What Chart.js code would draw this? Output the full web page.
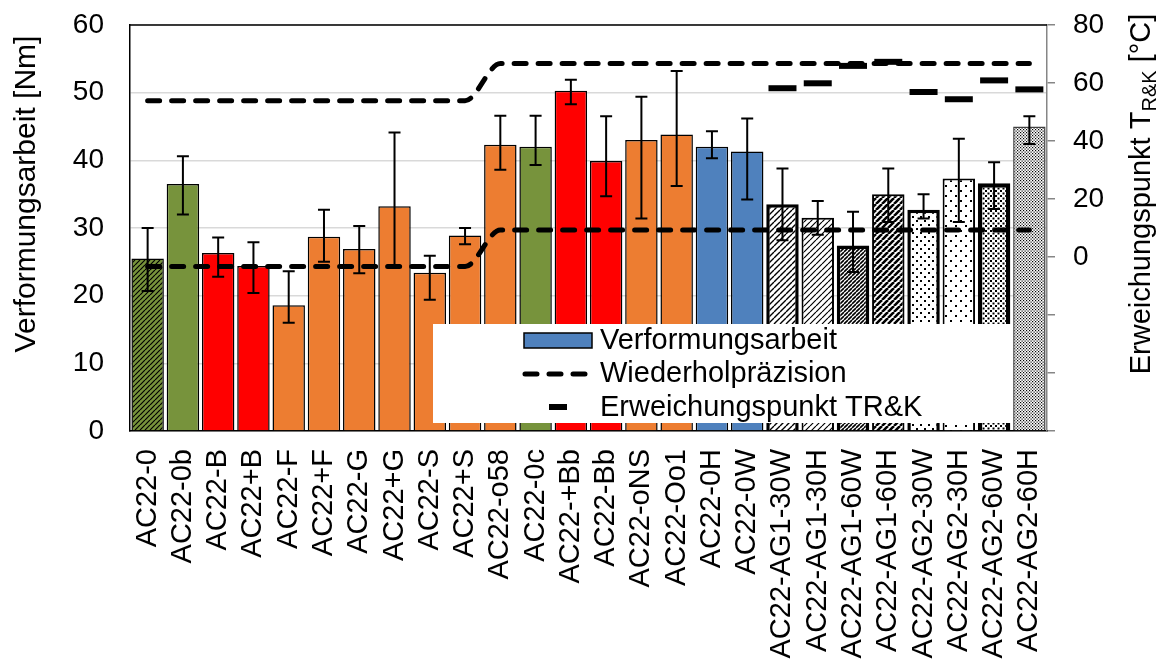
<!DOCTYPE html>
<html>
<head>
<meta charset="utf-8">
<title>Verformungsarbeit</title>
<script src="https://cdn.jsdelivr.net/npm/chart.js@4"></script>
<style>
  html, body { margin: 0; padding: 0; background: #fff; }
</style>
</head>
<body>
<canvas id="chart" width="1164" height="661"></canvas>
<script>
// Mischgut-Varianten (x-Achse)
const categories = [
  'AC22-0', 'AC22-0b', 'AC22-B', 'AC22+B', 'AC22-F', 'AC22+F', 'AC22-G', 'AC22+G',
  'AC22-S', 'AC22+S', 'AC22-o58', 'AC22-0c', 'AC22-+Bb', 'AC22-Bb', 'AC22-oNS', 'AC22-Oo1',
  'AC22-0H', 'AC22-0W', 'AC22-AG1-30W', 'AC22-AG1-30H', 'AC22-AG1-60W', 'AC22-AG1-60H',
  'AC22-AG2-30W', 'AC22-AG2-30H', 'AC22-AG2-60W', 'AC22-AG2-60H'
];

// Verformungsarbeit [Nm], Mittelwert
const arbeit = [
  25.5, 36.5, 26.3, 24.4, 18.6, 28.7, 26.9, 33.2, 23.4, 28.9, 42.3, 42.0, 50.3,
  39.9, 43.0, 43.8, 42.0, 41.3, 33.5, 31.5, 27.4, 35.0, 32.7, 37.3, 36.6, 45.0
];
// Streuung: obere und untere Grenze [Nm]
const arbeitMax = [
  30.0, 40.6, 28.6, 27.9, 23.6, 32.7, 30.3, 44.1, 25.9, 30.0, 46.6, 46.6, 51.9,
  46.5, 49.4, 53.2, 44.3, 46.2, 38.8, 34.0, 32.4, 38.8, 35.0, 43.2, 39.7, 46.5
];
const arbeitMin = [
  20.7, 32.0, 22.8, 20.4, 16.0, 25.0, 23.3, 24.3, 19.4, 27.6, 38.6, 39.3, 48.3,
  34.7, 31.4, 36.2, 40.3, 34.2, 28.2, 29.0, 23.5, 30.9, 31.4, 30.9, 32.8, 42.4
];

// Wiederholpräzision [Nm], obere und untere Grenze
const praezOben = [
  48.8, 48.8, 48.8, 48.8, 48.8, 48.8, 48.8, 48.8, 48.8, 48.8, 54.3, 54.3, 54.3,
  54.3, 54.3, 54.3, 54.3, 54.3, 54.3, 54.3, 54.3, 54.3, 54.3, 54.3, 54.3, 54.3
];
const praezUnten = [
  24.3, 24.3, 24.3, 24.3, 24.3, 24.3, 24.3, 24.3, 24.3, 24.3, 29.7, 29.7, 29.7,
  29.7, 29.7, 29.7, 29.7, 29.7, 29.7, 29.7, 29.7, 29.7, 29.7, 29.7, 29.7, 29.7
];

// Erweichungspunkt Ring & Kugel [°C], nur gealterte Proben
const erweichung = [
  null, null, null, null, null, null, null, null, null, null, null, null, null,
  null, null, null, null, null, 58.2, 59.9, 65.9, 67.3, 56.9, 54.4, 60.9, 57.8
];

const leftTicks = [0, 10, 20, 30, 40, 50, 60];
const rightTicks = [0, 20, 40, 60, 80];

const FONT = "'Liberation Sans', Arial, sans-serif";
Chart.defaults.font.family = FONT;
Chart.defaults.color = '#000';

const GREEN = '#77933C', RED = '#FF0000', ORANGE = '#ED7D31', BLUE = '#4F81BD';

function tile(size, paint) {
  const c = document.createElement('canvas');
  c.width = c.height = size;
  paint(c.getContext('2d'));
  return c.getContext('2d').createPattern(c, 'repeat');
}

// diagonale Schraffur "/"
function hatch(bg, step, lw) {
  return tile(step, g => {
    g.fillStyle = bg;
    g.fillRect(0, 0, step, step);
    g.strokeStyle = '#000';
    g.lineWidth = lw;
    g.beginPath();
    for (const o of [-step, 0, step]) {
      g.moveTo(o, step);
      g.lineTo(o + step, 0);
    }
    g.stroke();
  });
}

// Punktraster, versetzt
function dots(step, size, fg) {
  return tile(step, g => {
    g.fillStyle = '#fff';
    g.fillRect(0, 0, step, step);
    g.fillStyle = fg;
    g.fillRect(0, 0, size, size);
    g.fillRect(step / 2, step / 2, size, size);
  });
}

const fills = [
  hatch(GREEN, 5, 1.2), GREEN, RED, RED, ORANGE, ORANGE, ORANGE, ORANGE, ORANGE, ORANGE,
  ORANGE, GREEN, RED, RED, ORANGE, ORANGE, BLUE, BLUE,
  hatch('#fff', 6, 1.4), hatch('#fff', 6, 1.2), hatch('#fff', 4, 1.6), hatch('#fff', 6, 2.6),
  dots(8, 2, '#000'), dots(10, 2, '#000'), dots(5, 2, '#000'), dots(3, 1.2, '#000')
];
const strokeWidths = [
  1.5, 1.5, 1.5, 1.5, 1.5, 1.5, 1.5, 1.5, 1.5, 1.5, 1.5, 1.5, 1.5, 1.5, 1.5, 1.5, 1.5, 1.5,
  3.5, 2, 3.5, 2, 3.5, 2, 4.5, 1.5
];
const strokeColors = categories.map((c, i) => (i === 25 ? '#404040' : '#000'));

// Fehlerbalken über den Säulen
const errorBars = {
  id: 'errorBars',
  afterDatasetDraw(chart, args) {
    if (args.index !== 0) return;
    const { ctx } = chart;
    const y = chart.scales.y;
    ctx.save();
    ctx.strokeStyle = '#000';
    ctx.lineWidth = 2;
    args.meta.data.forEach((bar, i) => {
      const top = y.getPixelForValue(arbeitMax[i]);
      const bot = y.getPixelForValue(arbeitMin[i]);
      ctx.beginPath();
      ctx.moveTo(bar.x, top); ctx.lineTo(bar.x, bot);
      ctx.moveTo(bar.x - 6, top); ctx.lineTo(bar.x + 6, top);
      ctx.moveTo(bar.x - 6, bot); ctx.lineTo(bar.x + 6, bot);
      ctx.stroke();
    });
    ctx.restore();
  }
};

// Rahmen oben, Achsentitel und Legende
const decorations = {
  id: 'decorations',
  afterDraw(chart) {
    const { ctx, chartArea: a } = chart;
    ctx.save();
    ctx.strokeStyle = '#000';
    ctx.lineWidth = 1.5;
    ctx.beginPath();
    ctx.moveTo(a.left, a.top);
    ctx.lineTo(a.right, a.top);
    ctx.stroke();

    // linke Achse
    ctx.fillStyle = '#000';
    ctx.textBaseline = 'alphabetic';
    ctx.save();
    ctx.translate(35, 194);
    ctx.rotate(-Math.PI / 2);
    ctx.font = `30px ${FONT}`;
    ctx.textAlign = 'center';
    ctx.fillText('Verformungsarbeit [Nm]', 0, 0);
    ctx.restore();

    // rechte Achse mit Index R&K
    ctx.save();
    ctx.translate(1150, 194);
    ctx.rotate(-Math.PI / 2);
    ctx.textAlign = 'left';
    const main = `29px ${FONT}`, sub = `20px ${FONT}`;
    const parts = [['Erweichungspunkt T', main, 0], ['R&K', sub, 6], [' [°C]', main, 0]];
    let w = 0;
    for (const [t, f] of parts) { ctx.font = f; w += ctx.measureText(t).width; }
    let x = -w / 2;
    for (const [t, f, dy] of parts) {
      ctx.font = f;
      ctx.fillText(t, x, dy);
      x += ctx.measureText(t).width;
    }
    ctx.restore();

    // Legende
    ctx.fillStyle = '#fff';
    ctx.fillRect(433, 324, 580, 99);
    ctx.fillStyle = BLUE;
    ctx.fillRect(524, 333, 68, 15);
    ctx.strokeStyle = '#000';
    ctx.lineWidth = 1.5;
    ctx.strokeRect(524, 333, 68, 15);

    ctx.lineWidth = 5;
    ctx.lineCap = 'round';
    ctx.setLineDash([12, 12]);
    ctx.beginPath();
    ctx.moveTo(525, 374);
    ctx.lineTo(585, 374);
    ctx.stroke();
    ctx.setLineDash([]);
    ctx.lineCap = 'butt';
    ctx.lineWidth = 6;
    ctx.beginPath();
    ctx.moveTo(549, 407);
    ctx.lineTo(567, 407);
    ctx.stroke();

    ctx.fillStyle = '#000';
    ctx.font = `29px ${FONT}`;
    ctx.textAlign = 'left';
    ctx.fillText('Verformungsarbeit', 600, 349);
    ctx.fillText('Wiederholpräzision', 600, 382);
    ctx.fillText('Erweichungspunkt TR&K', 600, 416);
    ctx.restore();
  }
};

const dashLine = {
  type: 'line',
  yAxisID: 'y',
  order: 2,
  borderColor: '#000',
  borderWidth: 5,
  borderDash: [12, 12],
  borderCapStyle: 'round',
  pointRadius: 0,
  cubicInterpolationMode: 'monotone',
  fill: false
};

// feste Achsbreiten; Etikettenüberstand soll die Zeichenfläche nicht verschieben
function fixWidth(w) {
  return s => {
    s.width = w;
    s.paddingTop = 0;
    s.paddingBottom = 0;
  };
}

new Chart(document.getElementById('chart'), {
  data: {
    labels: categories,
    datasets: [
      {
        type: 'bar',
        label: 'Verformungsarbeit',
        data: arbeit,
        yAxisID: 'y',
        order: 3,
        backgroundColor: fills,
        borderColor: strokeColors,
        borderWidth: strokeWidths,
        barPercentage: 0.92,
        categoryPercentage: 1
      },
      { ...dashLine, label: 'Wiederholpräzision', data: praezOben },
      { ...dashLine, label: 'Wiederholpräzision', data: praezUnten },
      {
        type: 'line',
        label: 'Erweichungspunkt TR&K',
        data: erweichung,
        yAxisID: 'y1',
        order: 1,
        showLine: false,
        pointStyle: 'line',
        pointRadius: 14,
        pointBorderWidth: 6,
        pointBorderColor: '#000',
        borderColor: '#000'
      }
    ]
  },
  options: {
    responsive: false,
    animation: false,
    events: [],
    layout: { padding: { top: 25, left: 0, right: 0, bottom: 0 } },
    plugins: { legend: { display: false }, tooltip: { enabled: false } },
    scales: {
      x: {
        offset: true,
        grid: { display: false, drawTicks: false },
        border: { color: '#000', width: 1.5 },
        ticks: { autoSkip: false, minRotation: 90, maxRotation: 90, padding: 18, font: { size: 29 } },
        afterFit(s) { s.height = 230; }
      },
      y: {
        position: 'left',
        min: leftTicks[0],
        max: leftTicks[leftTicks.length - 1],
        afterBuildTicks(s) { s.ticks = leftTicks.map(v => ({ value: v })); },
        ticks: { padding: 26, font: { size: 28 } },
        grid: { color: '#D9D9D9', lineWidth: 1.5, drawTicks: false },
        border: { color: '#000', width: 1.5 },
        afterFit: fixWidth(130)
      },
      y1: {
        position: 'right',
        min: -60,
        max: 80,
        ticks: {
          stepSize: 20,
          padding: 18,
          font: { size: 28 },
          callback: v => (rightTicks.includes(v) ? v : '')
        },
        grid: { drawOnChartArea: false, color: '#868686', tickLength: 8, lineWidth: 1.5 },
        border: { color: '#868686', width: 1.5 },
        afterFit: fixWidth(117)
      }
    }
  },
  plugins: [errorBars, decorations]
});
</script>
</body>
</html>
